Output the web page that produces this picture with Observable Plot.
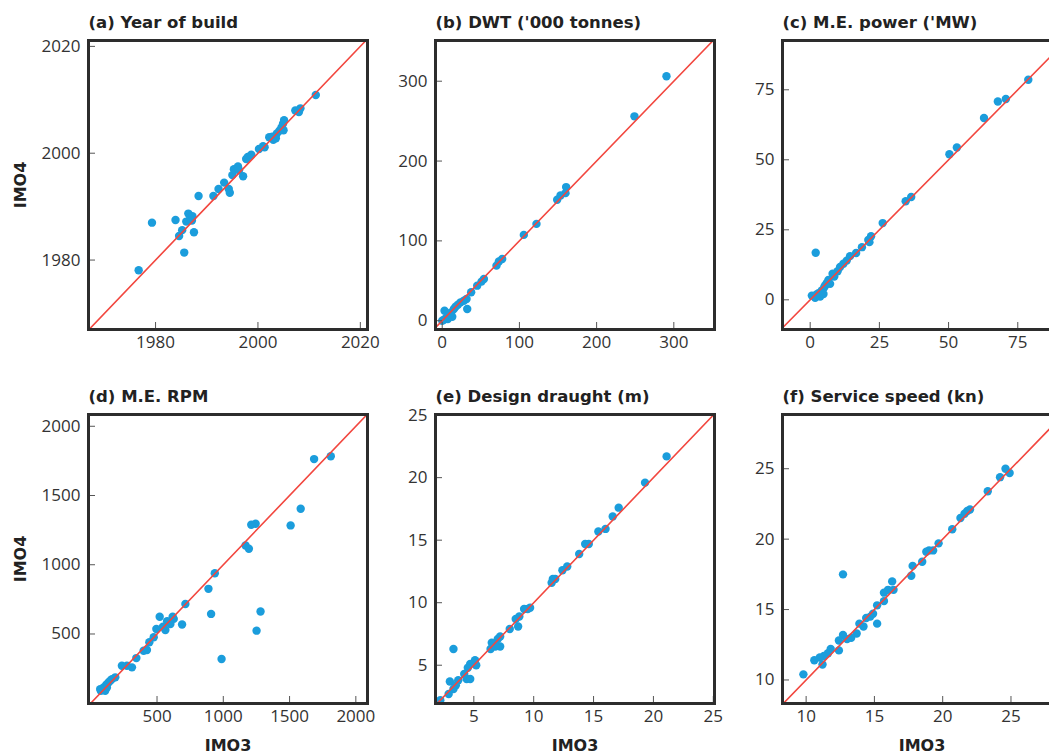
<!DOCTYPE html>
<html><head><meta charset="utf-8">
<script src="https://cdn.jsdelivr.net/npm/d3@7"></script>
<script src="https://cdn.jsdelivr.net/npm/@observablehq/plot@0.6"></script>
<style>
html,body{margin:0;padding:0;overflow:hidden;background:#fff;}
#fig{position:relative;width:1049px;height:755px;overflow:hidden;background:#fff;}
#fig svg{position:absolute;}
</style></head><body><div id="fig"></div>
<script>
// ---- data ----
const panelTitles = ["(a) Year of build", "(b) DWT ('000 tonnes)", "(c) M.E. power ('MW)",
                     "(d) M.E. RPM", "(e) Design draught (m)", "(f) Service speed (kn)"];
const xLabel = "IMO3";
const yLabel = "IMO4";

const yearIMO3 = [1976.7,1979.3,1983.9,1984.6,1985.2,1985.6,1986.0,1986.4,1986.8,1987.2,1987.1,1987.5,1988.4,1991.3,1992.3,1993.4,1994.3,1994.5,1995.0,1995.3,1996.1,1996.3,1997.1,1997.7,1998.0,1998.7,2000.2,2001.0,2001.3,2002.2,2002.8,2003.0,2003.5,2003.7,2004.2,2004.6,2004.9,2005.1,2005.0,2007.3,2008.0,2008.3,2011.3];
const yearIMO4 = [1978.1,1987.0,1987.5,1984.5,1985.6,1981.4,1987.2,1988.7,1988.0,1988.2,1987.4,1985.2,1992.0,1992.0,1993.3,1994.5,1993.3,1992.6,1995.9,1997.0,1997.5,1996.8,1995.7,1998.9,1999.3,1999.7,2000.8,2001.3,2001.1,2003.0,2003.1,2002.5,2002.8,2003.7,2004.2,2004.8,2005.5,2006.2,2004.3,2008.0,2007.7,2008.4,2010.9];

const dwtIMO3 = [290.5,249,160.5,159.7,153.2,148.9,122.1,105.7,77.7,73.4,70.3,54,50.9,45.3,37.5,31.5,32.4,23.7,20.3,15.1,11.7,8.6,3,5.6,2.2,7.3,13,10,0,17.3,28];
const dwtIMO4 = [306.3,256,167.4,159.8,156.9,151.5,121.3,107.5,77.4,74.1,69,52.3,49,43.9,35.6,27.2,14.6,23,20.1,14.6,10.5,6.3,12.6,4.2,1.3,2.1,5,8.4,0,17.6,25];

const powerIMO3 = [78.8,70.7,67.8,62.8,53,50.3,36.5,34.5,26.2,22,21,21.4,18.7,16.6,14.4,13.2,12,10.8,9.9,8.7,8.1,6.6,6,5.1,4.2,3,2.2,0.6,1.8,3.6,4.8,2,7.2,5.4];
const powerIMO4 = [78.6,71.7,70.8,64.9,54.4,52,36.7,35.2,27.4,22.7,21.4,20.6,18.8,16.7,15.6,14,12.9,11.7,10.2,8.3,9.3,7.1,6,4.5,3.3,2.4,1.8,1.5,0.7,1.2,2.1,16.8,5.7,5.1];

const rpmIMO3 = [1811,1685,1584,1508,1244,1211,1168,1193,1281,1251,987,908,888,936,714,689,626,618,520,576,601,563,545,495,475,442,424,399,344,311,273,235,185,160,134,117,97,76,109,122,71,147];
const rpmIMO4 = [1783,1763,1404,1284,1296,1289,1139,1115,662,524,319,645,826,939,717,568,609,625,625,592,572,529,553,536,476,440,384,379,326,259,271,271,187,174,150,133,114,90,90,114,102,162];

const draughtIMO3 = [21.1,19.3,17.1,16.6,16.0,15.4,14.6,14.3,13.8,12.8,12.4,11.8,11.6,11.5,9.7,9.5,9.2,8.8,8.5,8.7,8.0,7.2,7.0,7.2,6.5,6.8,6.4,5.1,5.2,4.7,4.5,4.4,4.7,4.2,3.7,3.3,3.0,3.5,3.3,2.9,2.2];
const draughtIMO4 = [21.7,19.6,17.6,16.9,15.9,15.7,14.7,14.7,13.9,12.9,12.6,11.9,11.9,11.6,9.6,9.5,9.5,8.9,8.7,8.1,7.9,7.3,7.1,6.5,6.8,6.5,6.3,5.4,5.0,5.1,4.8,3.9,3.9,4.3,3.8,6.3,3.7,3.4,3.1,2.7,2.2];

const speedIMO3 = [24.9,24.6,24.2,23.3,22.0,21.8,21.6,21.3,20.7,19.7,19.3,19.0,18.8,18.5,17.8,17.7,16.4,16.3,16.0,15.7,15.7,15.2,15.2,14.9,14.7,14.4,14.2,13.9,13.7,13.3,13.0,12.7,12.7,12.4,12.4,11.8,11.6,11.3,11.2,11.0,10.6,9.8];
const speedIMO4 = [24.7,25.0,24.4,23.4,22.1,22.0,21.8,21.5,20.7,19.7,19.2,19.2,19.1,18.4,18.1,17.4,16.4,17.0,16.4,16.2,15.6,15.3,14.0,14.7,14.5,14.4,13.8,14.0,13.3,13.0,12.9,13.2,17.5,12.8,12.1,12.2,11.9,11.7,11.1,11.6,11.4,10.4];

const ticksYear = [1980, 2000, 2020];
const ticksDwt = [0, 100, 200, 300];
const ticksPower = [0, 25, 50, 75];
const ticksRpm = [500, 1000, 1500, 2000];
const ticksDraught = [5, 10, 15, 20, 25];
const ticksSpeed = [10, 15, 20, 25];

// ---- panels ----
const panels = [
  {x: yearIMO3, y: yearIMO4, xd: [1966.9, 2021.4], yd: [1967.0, 2021.1], tx: ticksYear, ty: ticksYear},
  {x: dwtIMO3, y: dwtIMO4, xd: [-8.7, 352.7], yd: [-11, 351], tx: ticksDwt, ty: ticksDwt},
  {x: powerIMO3, y: powerIMO4, xd: [-10, 90.8], yd: [-10.6, 92.6], tx: ticksPower, ty: ticksPower},
  {x: rpmIMO3, y: rpmIMO4, xd: [-17, 2088], yd: [-2, 2085], tx: ticksRpm, ty: ticksRpm},
  {x: draughtIMO3, y: draughtIMO4, xd: [1.8, 25.1], yd: [1.94, 25.05], tx: ticksDraught, ty: ticksDraught},
  {x: speedIMO3, y: speedIMO4, xd: [8.27, 28.7], yd: [8.33, 28.85], tx: ticksSpeed, ty: ticksSpeed}
];

const fig = document.getElementById("fig");
const DOT = "#1b9ddc", RED = "#f2473f", FRAME = "#2d2d2d", TXT = "#333";
const fmt = d => String(d);

panels.forEach((p, i) => {
  const col = i % 3, row = Math.floor(i / 3);
  const data = p.x.map((v, k) => ({a: v, b: p.y[k]}));
  const lo = Math.min(p.xd[0], p.yd[0]), hi = Math.max(p.xd[1], p.yd[1]);
  const diag = [lo, hi].map(v => ({a: v, b: v}));
  const marks = [
    Plot.dot(data, {x: "a", y: "b", r: 4.2, fill: DOT}),
    Plot.line(diag, {x: "a", y: "b", stroke: RED, strokeWidth: 1.6, clip: true}),
    // inward ticks (shifted by their own length) with labels outside
    Plot.axisX({ticks: p.tx, tickSize: 7, dy: -7, tickPadding: 6, tickFormat: fmt, label: null,
      stroke: "#555", fill: TXT, fontSize: 17}),
    Plot.axisY({ticks: p.ty, tickSize: 7, dx: 7, tickPadding: 8, tickFormat: fmt, label: null,
      stroke: "#555", fill: TXT, fontSize: 17}),
    Plot.frame({stroke: FRAME, strokeWidth: 3}),
    Plot.text([panelTitles[i]], {frameAnchor: "top-left", text: d => d, dy: -13, lineAnchor: "bottom", textAnchor: "start",
      fontFamily: "DejaVu Sans", fontWeight: "bold", fontSize: 16.5, fill: "#222"})
  ];
  if (col === 0) marks.push(Plot.text([yLabel], {frameAnchor: "left", text: d => d, dx: -68, rotate: -90, lineAnchor: "middle",
      textAnchor: "middle", fontFamily: "DejaVu Sans", fontWeight: "bold", fontSize: 16, fill: "#222"}));
  if (row === 1) marks.push(Plot.text([xLabel], {frameAnchor: "bottom", text: d => d, dy: 42, lineAnchor: "middle",
      textAnchor: "middle", fontFamily: "DejaVu Sans", fontWeight: "bold", fontSize: 16, fill: "#222"}));

  const svg = Plot.plot({
    width: 379,
    height: row === 0 ? 374 : 381,
    marginLeft: 88, marginRight: 12,
    marginTop: 40, marginBottom: row === 0 ? 45 : 52,
    x: {domain: p.xd, label: null},
    y: {domain: p.yd, label: null},
    style: {background: "transparent", overflow: "visible", fontFamily: "'Open Sans', sans-serif", fontSize: "17px", maxWidth: "none"},
    marks
  });
  svg.style.left = (col * 347) + "px";
  svg.style.top = (row === 0 ? 0 : 374) + "px";
  fig.appendChild(svg);
});
</script></body></html>
